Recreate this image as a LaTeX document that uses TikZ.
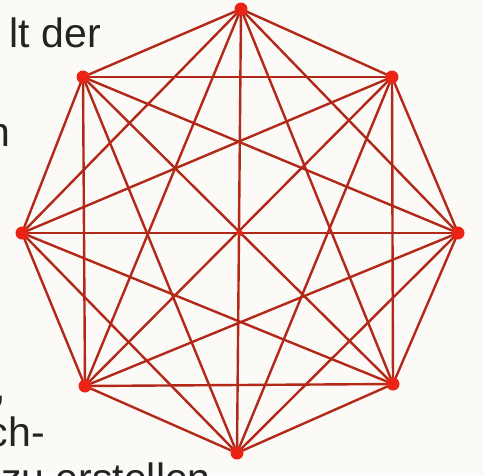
\documentclass[tikz,border=0pt]{standalone}
\usepackage{fontspec}
\setmainfont{Liberation Sans}
\definecolor{bg}{RGB}{252,250,246}
\definecolor{edgec}{RGB}{178,40,25}
\definecolor{dotc}{RGB}{235,35,20}
\definecolor{txt}{RGB}{35,35,35}
\begin{document}
\begin{tikzpicture}[x=1pt,y=-1pt,
  edge/.style={draw=edgec,line width=2.4pt,line cap=round},
  vtx/.style={circle,fill=dotc,inner sep=0pt,minimum size=13pt},
  ctr/.style={circle,fill=dotc,inner sep=0pt,minimum size=6pt},
  lbl/.style={text=txt,font=\fontsize{41}{46}\selectfont,inner sep=0pt}]
\useasboundingbox (0,0) rectangle (483,475);
\fill[bg] (0,0) rectangle (483,475);
\clip (0,0) rectangle (483,475);
% text fragments
\node[lbl,anchor=base east] (t1) at (101,47) {lt der};
\node[lbl,anchor=base east] (t2) at (11,146) {n};
\node[lbl,anchor=base east] (t3) at (6,400) {,};
\node[lbl,anchor=base east] (t4) at (45,446) {ch-};
\node[lbl,anchor=base west] (t5) at (1,492) {zu erstellen};
% vertices
\coordinate (v1) at (241,9);
\coordinate (v2) at (392,77);
\coordinate (v3) at (458,233);
\coordinate (v4) at (393,384);
\coordinate (v5) at (237,453);
\coordinate (v6) at (85,386);
\coordinate (v7) at (22,233);
\coordinate (v8) at (83,77);
% all edges of complete graph
\foreach \i in {1,...,8}{
  \foreach \j in {1,...,8}{
    \ifnum\i<\j \draw[edge] (v\i) -- (v\j); \fi
  }
}
\foreach \i in {1,...,8}{\node[vtx] (d\i) at (v\i) {};}
\node[ctr] (c) at (240,233) {};
\end{tikzpicture}
\end{document}
